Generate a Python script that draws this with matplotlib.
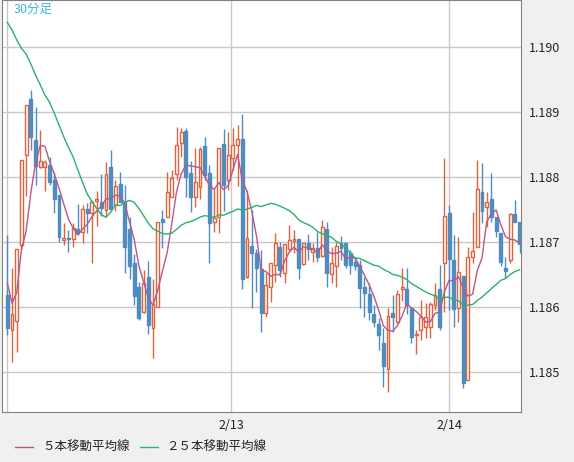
import matplotlib
matplotlib.use('Agg')
import matplotlib.pyplot as plt
import numpy as np
import pandas as pd

plt.rcParams['font.family'] = ['Noto Sans CJK JP', 'DejaVu Sans']

# 30-minute candles, EUR/USD style prices
opens = [1.18618, 1.18565, 1.18578, 1.18695, 1.18834, 1.18920, 1.18857, 1.18815, 1.18815, 1.18818,
         1.18795, 1.18772, 1.18703, 1.18706, 1.18705, 1.18720, 1.18715, 1.18751, 1.18745, 1.18763,
         1.18762, 1.18749, 1.18815, 1.18757, 1.18789, 1.18762, 1.18720, 1.18668, 1.18631, 1.18592,
         1.18646, 1.18568, 1.18600, 1.18735, 1.18738, 1.18769, 1.18805, 1.18852, 1.18871, 1.18806,
         1.18769, 1.18785, 1.18848, 1.18806, 1.18731, 1.18738, 1.18851, 1.18795, 1.18829, 1.18849,
         1.18858, 1.18646, 1.18694, 1.18683, 1.18658, 1.18591, 1.18631, 1.18665, 1.18692, 1.18652,
         1.18689, 1.18702, 1.18705, 1.18666, 1.18698, 1.18685, 1.18691, 1.18678, 1.18720, 1.18651,
         1.18663, 1.18698, 1.18698, 1.18683, 1.18669, 1.18665, 1.18631, 1.18620, 1.18589, 1.18574,
         1.18545, 1.18505, 1.18591, 1.18577, 1.18628, 1.18628, 1.18598, 1.18557, 1.18565, 1.18569,
         1.18569, 1.18603, 1.18628, 1.18668, 1.18745, 1.18672, 1.18598, 1.18648, 1.18488, 1.18677,
         1.18692, 1.18777, 1.18754, 1.18766, 1.18738, 1.18714, 1.18660, 1.18672, 1.18743, 1.18731]
highs = [1.18711, 1.18660, 1.18689, 1.18826, 1.18911, 1.18934, 1.18908, 1.18872, 1.18826, 1.18831,
         1.18808, 1.18772, 1.18729, 1.18718, 1.18729, 1.18758, 1.18757, 1.18760, 1.18765, 1.18778,
         1.18805, 1.18823, 1.18842, 1.18795, 1.18808, 1.18788, 1.18738, 1.18682, 1.18638, 1.18657,
         1.18671, 1.18643, 1.18731, 1.18749, 1.18808, 1.18811, 1.18877, 1.18875, 1.18875, 1.18825,
         1.18845, 1.18846, 1.18862, 1.18818, 1.18782, 1.18845, 1.18874, 1.18869, 1.18875, 1.18880,
         1.18897, 1.18780, 1.18749, 1.18689, 1.18688, 1.18652, 1.18668, 1.18714, 1.18700, 1.18697,
         1.18726, 1.18718, 1.18705, 1.18698, 1.18712, 1.18698, 1.18715, 1.18734, 1.18731, 1.18692,
         1.18700, 1.18709, 1.18698, 1.18688, 1.18677, 1.18672, 1.18646, 1.18637, 1.18603, 1.18583,
         1.18568, 1.18598, 1.18618, 1.18626, 1.18660, 1.18660, 1.18598, 1.18565, 1.18611, 1.18606,
         1.18608, 1.18637, 1.18665, 1.18829, 1.18757, 1.18711, 1.18708, 1.18648, 1.18692, 1.18746,
         1.18826, 1.18822, 1.18777, 1.18806, 1.18738, 1.18714, 1.18677, 1.18745, 1.18765, 1.18731]
lows = [1.18557, 1.18515, 1.18531, 1.18688, 1.18771, 1.18842, 1.18788, 1.18814, 1.18778, 1.18788,
        1.18745, 1.18700, 1.18695, 1.18685, 1.18692, 1.18711, 1.18698, 1.18714, 1.18668, 1.18725,
        1.18740, 1.18738, 1.18751, 1.18748, 1.18762, 1.18652, 1.18643, 1.18603, 1.18580, 1.18591,
        1.18558, 1.18522, 1.18600, 1.18691, 1.18738, 1.18769, 1.18795, 1.18831, 1.18769, 1.18746,
        1.18754, 1.18766, 1.18795, 1.18668, 1.18715, 1.18714, 1.18748, 1.18780, 1.18811, 1.18786,
        1.18628, 1.18645, 1.18598, 1.18623, 1.18562, 1.18585, 1.18608, 1.18638, 1.18646, 1.18637,
        1.18688, 1.18683, 1.18643, 1.18665, 1.18672, 1.18669, 1.18669, 1.18677, 1.18631, 1.18637,
        1.18631, 1.18672, 1.18660, 1.18651, 1.18657, 1.18598, 1.18585, 1.18580, 1.18569, 1.18534,
        1.18477, 1.18469, 1.18562, 1.18575, 1.18609, 1.18589, 1.18545, 1.18528, 1.18549, 1.18552,
        1.18552, 1.18595, 1.18565, 1.18592, 1.18595, 1.18569, 1.18577, 1.18475, 1.18488, 1.18668,
        1.18692, 1.18729, 1.18723, 1.18731, 1.18708, 1.18663, 1.18645, 1.18668, 1.18731, 1.18683]
closes = [1.18568, 1.18589, 1.18689, 1.18826, 1.18911, 1.18862, 1.18817, 1.18825, 1.18823, 1.18792,
          1.18766, 1.18708, 1.18706, 1.18705, 1.18722, 1.18714, 1.18751, 1.18745, 1.18762, 1.18766,
          1.18752, 1.18805, 1.18751, 1.18786, 1.18762, 1.18692, 1.18663, 1.18617, 1.18583, 1.18637,
          1.18572, 1.18605, 1.18731, 1.18731, 1.18777, 1.18798, 1.18849, 1.18869, 1.18800, 1.18769,
          1.18792, 1.18843, 1.18803, 1.18729, 1.18737, 1.18845, 1.18788, 1.18834, 1.18849, 1.18858,
          1.18643, 1.18706, 1.18683, 1.18660, 1.18591, 1.18634, 1.18668, 1.18698, 1.18657, 1.18697,
          1.18703, 1.18705, 1.18660, 1.18698, 1.18689, 1.18691, 1.18677, 1.18723, 1.18652, 1.18668,
          1.18694, 1.18691, 1.18665, 1.18665, 1.18663, 1.18629, 1.18622, 1.18592, 1.18577, 1.18557,
          1.18509, 1.18586, 1.18585, 1.18620, 1.18631, 1.18603, 1.18554, 1.18558, 1.18585, 1.18585,
          1.18605, 1.18618, 1.18569, 1.18740, 1.18674, 1.18597, 1.18654, 1.18483, 1.18677, 1.18686,
          1.18782, 1.18748, 1.18762, 1.18738, 1.18717, 1.18669, 1.18655, 1.18743, 1.18731, 1.18697]

# moving-average values before enough candles are on screen
ma5_head = [1.18637, 1.18606, 1.18622, 1.18688]
ma25_head = [1.19038, 1.19026, 1.19011, 1.18998, 1.18989, 1.18974, 1.18957, 1.18942, 1.18926, 1.18915,
             1.18898, 1.18880, 1.18862, 1.18846, 1.18831, 1.18811, 1.18792, 1.18774, 1.18762, 1.18752,
             1.18742, 1.18738, 1.18746, 1.18757]

y_ticks = [1.185, 1.186, 1.187, 1.188, 1.189, 1.190]
date_pos = [0, 47.6, 94.0]
date_labels = ['', '2/13', '2/14']

df = pd.DataFrame({'Open': opens, 'High': highs, 'Low': lows, 'Close': closes})
ma5 = df['Close'].rolling(5).mean().values
ma5[:len(ma5_head)] = ma5_head
ma25 = df['Close'].rolling(25).mean().values
ma25[:len(ma25_head)] = ma25_head

up_col = '#dc643f'
down_col = '#4f8cc2'
ma5_col = '#b8588a'
ma25_col = '#2bb06e'

fig = plt.figure(figsize=(5.74, 4.62), dpi=100, facecolor='#f0f0f0')
ax = fig.add_axes([2 / 574, 50 / 462, 519 / 574, 412 / 462])
ax.set_facecolor('white')

x = np.arange(len(df))
w = 0.62
for i, row in df.iterrows():
    top = max(row['Open'], row['Close'])
    bot = min(row['Open'], row['Close'])
    if row['Close'] > row['Open']:
        ax.add_patch(plt.Rectangle((i - w / 2, bot), w, top - bot, facecolor='white',
                                   edgecolor=up_col, linewidth=1, zorder=3))
        c = up_col
    else:
        ax.add_patch(plt.Rectangle((i - w / 2, bot), w, max(top - bot, 0.000008), facecolor=down_col,
                                   edgecolor=down_col, linewidth=1, zorder=3))
        c = down_col
    ax.vlines(i, top, row['High'], color=c, linewidth=1, zorder=3)
    ax.vlines(i, row['Low'], bot, color=c, linewidth=1, zorder=3)

ax.plot(x, ma5, color=ma5_col, linewidth=1, zorder=4)
ax.plot(x, ma25, color=ma25_col, linewidth=1, zorder=4)

ax.set_xlim(-1.13, 109.3)
ax.set_ylim(1.184385, 1.190723)
ax.set_yticks(y_ticks)
ax.set_yticklabels(['%.3f' % v for v in y_ticks])
ax.yaxis.tick_right()
ax.set_xticks(date_pos)
ax.set_xticklabels(date_labels)
ax.tick_params(axis='both', length=0, labelsize=9, colors='#222222')
ax.tick_params(axis='y', pad=6)
ax.tick_params(axis='x', pad=5)
ax.grid(True, color='#c8c8c8', linewidth=1)
ax.set_axisbelow(True)
for s in ax.spines.values():
    s.set_color('#808080')

ax.text(0.022, 0.993, '30分足', transform=ax.transAxes, color='#3cb4e6', fontsize=9,
        va='top', ha='left')

fig.lines.append(plt.Line2D([15 / 574, 33 / 574], [1 - 447 / 462] * 2, color=ma5_col,
                            linewidth=1, transform=fig.transFigure))
fig.text(42 / 574, 1 - 447 / 462, '５本移動平均線', fontsize=9, va='center', color='#222222')
fig.lines.append(plt.Line2D([140 / 574, 158 / 574], [1 - 447 / 462] * 2, color=ma25_col,
                            linewidth=1, transform=fig.transFigure))
fig.text(166 / 574, 1 - 447 / 462, '２５本移動平均線', fontsize=9, va='center', color='#222222')

fig.savefig('out.png', dpi=100, facecolor=fig.get_facecolor())
